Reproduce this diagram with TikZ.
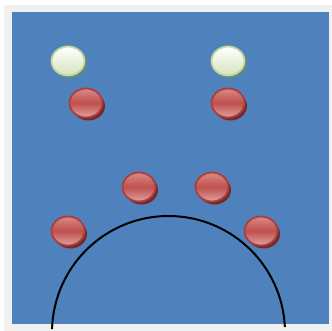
\documentclass[tikz,border=0pt]{standalone}
\usetikzlibrary{shapes.geometric,shadows}

\definecolor{fieldblue}{HTML}{4F81BD}
\definecolor{framegray}{HTML}{F0F0F0}
\definecolor{redball}{HTML}{C0504D}
\definecolor{redlight}{HTML}{D98A88}
\definecolor{redrim}{HTML}{A8403D}
\definecolor{redshade}{HTML}{7A2826}
\definecolor{greenrim}{HTML}{C3D69B}
\definecolor{greenlow}{HTML}{D8E4BE}
\definecolor{greenshade}{HTML}{5F8A83}

\tikzset{
  ball/.style={ellipse, minimum width=33pt, minimum height=29pt, inner sep=0pt,
    line width=1.8pt},
  redchip/.style={ball, draw=redrim,
    top color=redlight, bottom color=redlight!80!white, middle color=redball,
    general shadow={fill=redshade, shadow xshift=2.5pt, shadow yshift=-3pt}},
  whitechip/.style={ball, draw=greenrim,
    top color=white, bottom color=greenlow,
    general shadow={fill=greenshade, shadow xshift=2.5pt, shadow yshift=-3pt}},
}

\begin{document}
\begin{tikzpicture}[x=1pt,y=-1pt]
  \useasboundingbox (0,0) rectangle (332,331);

  % frame and field
  \fill[framegray] (4,5) rectangle (332,331);
  \fill[fieldblue] (12,12) rectangle (329,324);

  % white chips
  \foreach \n/\x/\y in {wa/68/61, wb/228/61}
    \node[whitechip] (\n) at (\x,\y) {};

  % red chips
  \foreach \n/\x/\y in {ra/86/103, rb/228/103, rc/139/187, rd/212/187,
                        re/68/231, rf/261/231}
    \node[redchip] (\n) at (\x,\y) {};

  % half circle at the bottom
  \draw[line width=2pt] (168.5,332.5) ++(181.7:116.5) arc (181.7:357.3:116.5);
\end{tikzpicture}
\end{document}
